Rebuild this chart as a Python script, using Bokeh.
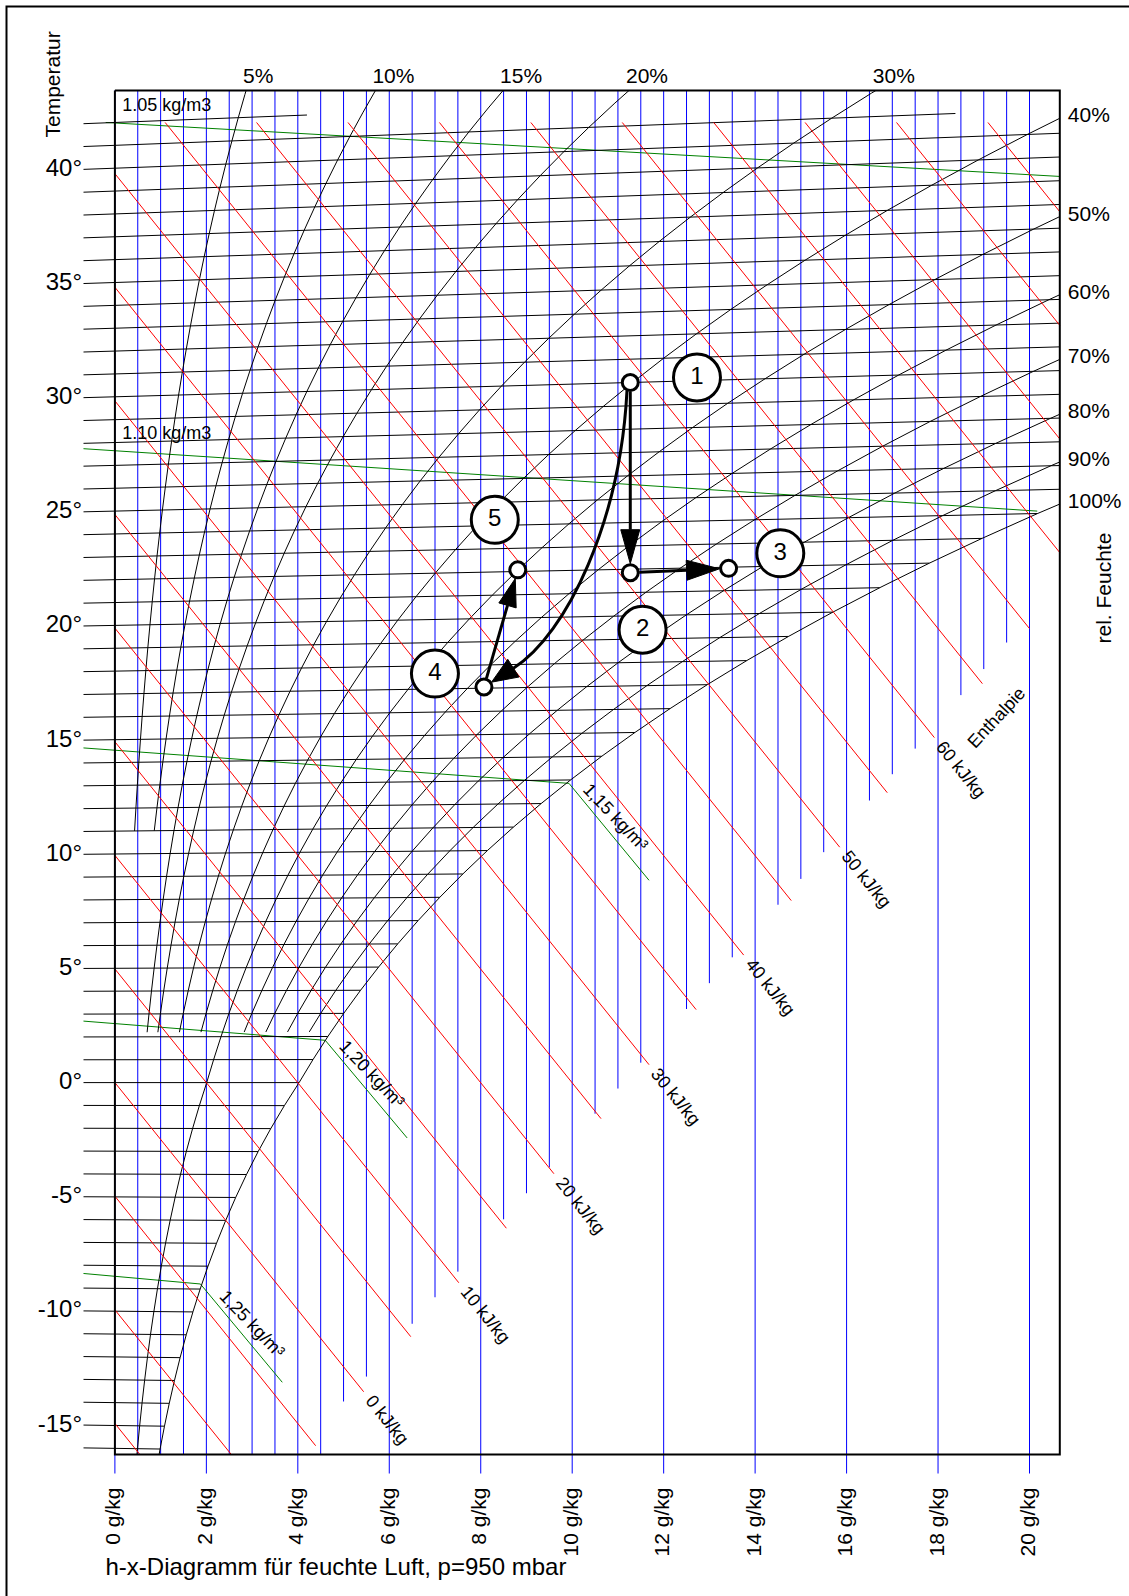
import math

from bokeh.core.properties import value
from bokeh.embed import file_html
from bokeh.models import Range1d
from bokeh.plotting import figure
from bokeh.resources import INLINE

# ---------------------------------------------------------------------------
# chart values
# ---------------------------------------------------------------------------
PRESSURE_HPA = 950.0
CP_AIR, CP_VAPOUR, R0 = 1.006, 1.86, 2501.0

# saturation vapour pressure (hPa) at whole degrees, over ice below 0 °C
SAT_T = list(range(-17, 46))
SAT_P = [
    1.372, 1.507, 1.653, 1.812, 1.985, 2.173, 2.377, 2.599, 2.839, 3.100,
    3.382, 3.687, 4.017, 4.375, 4.760, 5.177, 5.627,
    6.112, 6.571, 7.060, 7.581, 8.135, 8.725, 9.353, 10.020, 10.729, 11.481,
    12.280, 13.128, 14.026, 14.979, 15.987, 17.055, 18.185, 19.380, 20.643, 21.978,
    23.388, 24.877, 26.447, 28.104, 29.850, 31.690, 33.629, 35.670, 37.818, 40.078,
    42.455, 44.953, 47.578, 50.335, 53.229, 56.267, 59.454, 62.795, 66.298, 69.969,
    73.814, 77.840, 82.054, 86.464, 91.076, 95.898,
]

# relative humidity curves and the temperature each one starts at
RH_LEVELS = [5, 10, 15, 20, 30, 40, 50, 60, 70, 80, 90, 100]
RH_FROM_T = [11, 11, 2.2, 2.2, 2.2, 2.2, -17, 2.2, 2.2, 2.2, 2.2, -17]

# isotherms (°C); the two warmest stop early (moisture in g/kg)
ISOTHERMS = list(range(-16, 43))
ISOTHERM_STOP = {41: 18.38, 42: 4.20}
TEMP_LABELS = list(range(-15, 41, 5))

# enthalpy lines (kJ/kg) and the moisture where each one stops (None: runs to the frame)
ENTHALPY = list(range(-15, 95, 5))
ENTHALPY_END_X = [None, None, 4.39, 5.44, 6.47, 7.52, 8.56, 9.60, 10.63, 11.68, 12.71,
                  13.75, 14.79, 15.85, 16.89, 17.92, 18.97, 20.00, None, None, None, None]
ENTHALPY_LABELED = [0, 10, 20, 30, 40, 50, 60]

# moisture lines (g/kg) and the ordinate (°C) where each one stops (None: labelled)
MOISTURE = [i / 2 for i in range(41)]
MOISTURE_LABELED = list(range(0, 21, 2))
MOISTURE_FLOOR = [None, -16.3, -16.3, -16.3, None, -16.3, -16.3, -16.3, None, -16.3,
                  -13.95, -12.86, None, -10.55, -9.39, -8.27, None, -5.98, -4.84, -3.71,
                  None, -1.36, -0.26, 0.87, None, 3.22, 4.35, 5.48, None, 7.78,
                  8.91, 10.08, None, 12.34, 13.49, 14.61, None, 16.95, 18.09, 19.25, None]

# density lines: ordinate at the left end, point on the saturation curve, end in the fog zone
DENSITY_LABEL = ["1.05 kg/m3", "1.10 kg/m3", "1,15 kg/m³", "1,20 kg/m³", "1,25 kg/m³"]
DENSITY_X_LEFT = [-0.2, -0.687, -0.687, -0.687, -0.687]
DENSITY_Y_LEFT = [42.0, 27.73, 14.64, 2.69, -8.35]
DENSITY_X_SAT = [20.66, 20.17, 9.93, 4.60, 1.87]
DENSITY_Y_SAT = [39.64, 25.00, 13.09, 1.85, -8.81]
DENSITY_X_FOG = [None, None, 11.68, 6.39, 3.66]
DENSITY_Y_FOG = [None, None, 8.85, -2.42, -13.11]

# air states of the process (moisture g/kg, temperature °C)
STATE_NAME = ["1", "2", "3", "4", "5"]
STATE_X = [11.27, 11.27, 13.42, 8.07, 8.81]
STATE_T = [30.0, 21.85, 21.95, 17.05, 22.07]

# ---------------------------------------------------------------------------
# geometry of the diagram
# ---------------------------------------------------------------------------
W, H = 1129, 1596
X0, XS = 114.4, 45.73     # pixel of 0 g/kg, pixels per g/kg
Y0, YS = 1082.1, 22.86    # pixel of ordinate 0, pixels per degree
MID = 2.0                 # lift for vertically centred texts


def to_px(x, y):
    return X0 + x * XS, Y0 - y * YS


def to_data(sx, sy):
    return (sx - X0) / XS, (Y0 - sy) / YS


def shifted(x, y, dx, dy):
    sx, sy = to_px(x, y)
    return to_data(sx + dx, sy + dy)


X_MIN = 0.0
X_MAX = to_data(1059.3, 0)[0]
Y_TOP = to_data(0, 90)[1]
Y_BOT = to_data(0, 1454)[1]
ISO_X0 = to_data(83, 0)[0]
TICK_Y = to_data(0, 1473)[1]
CAP_Y = 42.0              # enthalpy lines start below this ordinate


def mixing_ratio(phi, ps):
    pv = phi / 100.0 * ps
    return 622.0 * pv / (PRESSURE_HPA - pv)


def ordinate(t, x):
    return t + CP_VAPOUR * t * x / 1000.0 / CP_AIR


def enthalpy_ordinate(h, x):
    return (h - R0 * x / 1000.0) / CP_AIR


def clip_segment(x0, y0, x1, y1):
    dx, dy = x1 - x0, y1 - y0
    a, b = 0.0, 1.0
    for pp, q in ((-dx, x0 - X_MIN), (dx, X_MAX - x0), (-dy, y0 - Y_BOT), (dy, Y_TOP - y0)):
        if pp == 0:
            if q < 0:
                return None
            continue
        r = q / pp
        if pp < 0:
            if r > b:
                return None
            a = max(a, r)
        else:
            if r < a:
                return None
            b = min(b, r)
    return x0 + a * dx, y0 + a * dy, x0 + b * dx, y0 + b * dy


def clip_polyline(xs, ys):
    cx, cy = [], []
    for i in range(len(xs) - 1):
        seg = clip_segment(xs[i], ys[i], xs[i + 1], ys[i + 1])
        if seg is None:
            continue
        ax, ay, bx, by = seg
        if not cx or abs(cx[-1] - ax) > 1e-9 or abs(cy[-1] - ay) > 1e-9:
            cx.append(ax)
            cy.append(ay)
        cx.append(bx)
        cy.append(by)
    return cx, cy


FONT = value("Liberation Sans")

p = figure(width=W, height=H, x_range=Range1d(-X0 / XS, (W - X0) / XS),
           y_range=Range1d((Y0 - H) / YS, Y0 / YS), output_backend="svg",
           toolbar_location=None, x_axis_type=None, y_axis_type=None,
           min_border=0, title=None)
p.outline_line_color = None
p.background_fill_color = "white"
p.border_fill_color = "white"


def label(pts, texts, size, angle=0.0, align="left", baseline="middle"):
    p.text(x=[q[0] for q in pts], y=[q[1] for q in pts], text=texts, angle=angle,
           text_font=FONT, text_font_size=size, text_align=align,
           text_baseline=baseline, text_color="black")


# --- moisture lines (blue) --------------------------------------------------
mx0, my0, mx1, my1 = [], [], [], []
for xv, floor in zip(MOISTURE, MOISTURE_FLOOR):
    bottom = TICK_Y if floor is None else max(floor, Y_BOT)
    mx0.append(xv); my0.append(Y_TOP); mx1.append(xv); my1.append(bottom)
p.segment(x0=mx0, y0=my0, x1=mx1, y1=my1, line_color="#0000ff", line_width=1)

# --- density lines (green) ---------------------------------------------------
dxs, dys = [], []
for i in range(len(DENSITY_LABEL)):
    xs = [DENSITY_X_LEFT[i], DENSITY_X_SAT[i]]
    ys = [DENSITY_Y_LEFT[i], DENSITY_Y_SAT[i]]
    if DENSITY_X_FOG[i] is not None:
        xs.append(DENSITY_X_FOG[i])
        ys.append(DENSITY_Y_FOG[i])
    dxs.append(xs)
    dys.append(ys)
p.multi_line(xs=dxs, ys=dys, line_color="#008000", line_width=1)

# --- isotherms (black) ------------------------------------------------------
sat_x = {t: mixing_ratio(100, ps) for t, ps in zip(SAT_T, SAT_P)}
ix0, iy0, ix1, iy1 = [], [], [], []
for t in ISOTHERMS:
    xe = ISOTHERM_STOP.get(t, min(sat_x[t], X_MAX))
    ix0.append(ISO_X0); iy0.append(ordinate(t, ISO_X0))
    ix1.append(xe); iy1.append(ordinate(t, xe))
p.segment(x0=ix0, y0=iy0, x1=ix1, y1=iy1, line_color="black", line_width=1)

# --- relative humidity curves ------------------------------------------------
rh_xs, rh_ys = [], []
top_pts, top_t, right_pts, right_t = [], [], [], []
for phi, t_from in zip(RH_LEVELS, RH_FROM_T):
    t_lo = math.floor(t_from)
    pts = [(mixing_ratio(phi, ps), t) for t, ps in zip(SAT_T, SAT_P) if t >= t_lo]
    xs = [x for x, _ in pts]
    ys = [ordinate(t, x) for x, t in pts]
    f = t_from - t_lo
    if f > 0:
        xs[0] += f * (xs[1] - xs[0])
        ys[0] += f * (ys[1] - ys[0])
    cx, cy = clip_polyline(xs, ys)
    rh_xs.append(cx)
    rh_ys.append(cy)
    if cy[-1] >= Y_TOP - 1e-6:
        top_pts.append(shifted(cx[-1], Y_TOP, -3, -13 - MID))
        top_t.append(f"{phi}%")
    else:
        right_pts.append(shifted(X_MAX, cy[-1], 8, -1.5 - MID))
        right_t.append(f"{phi}%")
p.multi_line(xs=rh_xs, ys=rh_ys, line_color="black", line_width=1)

# --- enthalpy lines (red) ----------------------------------------------------
h_dx, h_dy = XS, R0 / 1000.0 / CP_AIR * YS          # screen direction of the lines
h_len = math.hypot(h_dx, h_dy)
h_ux, h_uy = h_dx / h_len, h_dy / h_len
h_angle = -math.atan2(h_dy, h_dx)

hx0, hy0, hx1, hy1 = [], [], [], []
h_lab_pts, h_lab_t = [], []
for h, xe in zip(ENTHALPY, ENTHALPY_END_X):
    if enthalpy_ordinate(h, 0.0) <= CAP_Y:
        xs0, ys0 = 0.0, enthalpy_ordinate(h, 0.0)
    else:
        xs0, ys0 = (h - CP_AIR * CAP_Y) * 1000.0 / R0, CAP_Y
    if xe is None:
        xe = min(X_MAX, (h - CP_AIR * Y_BOT) * 1000.0 / R0)
    ye = enthalpy_ordinate(h, xe)
    hx0.append(xs0); hy0.append(ys0); hx1.append(xe); hy1.append(ye)
    if h in ENTHALPY_LABELED:
        h_lab_pts.append(shifted(xe, ye, 9 * h_ux - MID * h_uy * 0.0, 9 * h_uy - MID * 0.6))
        h_lab_t.append(f"{h} kJ/kg")
p.segment(x0=hx0, y0=hy0, x1=hx1, y1=hy1, line_color="#ff0000", line_width=1)
label(h_lab_pts, h_lab_t, "18px", angle=h_angle, align="left", baseline="middle")

# --- density labels ------------------------------------------------------------
flat_pts, flat_t, fog_pts, fog_t = [], [], [], []
fog_along = [14, 14, 22]
k = 0
for i, txt in enumerate(DENSITY_LABEL):
    if DENSITY_X_FOG[i] is None:
        slope = (DENSITY_Y_SAT[i] - DENSITY_Y_LEFT[i]) / (DENSITY_X_SAT[i] - DENSITY_X_LEFT[i])
        y_at_edge = DENSITY_Y_LEFT[i] + slope * (X_MIN - DENSITY_X_LEFT[i])
        flat_pts.append(shifted(X_MIN, y_at_edge, 7.3, -16.0 - MID))
        flat_t.append(txt)
    else:
        sx0, sy0 = to_px(DENSITY_X_SAT[i], DENSITY_Y_SAT[i])
        sx1, sy1 = to_px(DENSITY_X_FOG[i], DENSITY_Y_FOG[i])
        n = math.hypot(sx1 - sx0, sy1 - sy0)
        ux, uy = (sx1 - sx0) / n, (sy1 - sy0) / n
        along = fog_along[k]
        k += 1
        fog_pts.append(to_data(sx0 + along * ux + 1.5 * uy, sy0 + along * uy - 1.5 * ux))
        fog_t.append(txt)
label(flat_pts, flat_t, "18px", align="left", baseline="middle")
label(fog_pts, fog_t, "18px", angle=math.radians(-46.5), align="left", baseline="bottom")

# --- frame of the diagram and page border ------------------------------------
p.multi_line(xs=[[X_MIN, X_MAX, X_MAX, X_MIN, X_MIN]], ys=[[Y_TOP, Y_TOP, Y_BOT, Y_BOT, Y_TOP]],
             line_color="black", line_width=2, line_join="miter")
bx0, by0 = to_data(6, H + 10)
bx1, by1 = to_data(W + 10, 6)
p.line(x=[bx0, bx0, bx1], y=[by0, by1, by1], line_color="black", line_width=2,
       line_join="miter")

# --- scale texts ---------------------------------------------------------------
label([shifted(ISO_X0, ordinate(t, ISO_X0), -1.5, -MID) for t in TEMP_LABELS],
      [f"{t}°" for t in TEMP_LABELS], "24px", align="right")
label([shifted(n, TICK_Y, -MID, 14) for n in MOISTURE_LABELED],
      [f"{n} g/kg" for n in MOISTURE_LABELED], "21px", angle=math.pi / 2, align="right")
label(top_pts, top_t, "21px", align="left")
label(right_pts, right_t, "21px", align="left")

label([to_data(53.5 - MID, 137)], ["Temperatur"], "21px", angle=math.pi / 2)
label([to_data(1105 - MID, 643)], ["rel. Feuchte"], "21px", angle=math.pi / 2)
label([to_data(105, 1567.5 - MID)], ["h-x-Diagramm für feuchte Luft, p=950 mbar"], "24px")

# "Enthalpie" beside the 60 kJ/kg line end
e_i = ENTHALPY.index(60)
label([shifted(hx1[e_i], hy1[e_i], 62, -18 - MID)], ["Enthalpie"], "18px",
      angle=math.radians(47), align="center")

# --- process of the air -----------------------------------------------------
state_px = [to_px(x, ordinate(t, x)) for x, t in zip(STATE_X, STATE_T)]
R_SMALL = 9.0


def unit(dx, dy):
    n = math.hypot(dx, dy)
    return dx / n, dy / n


def head(tip, d, length, half):
    bx, by = tip[0] - d[0] * length, tip[1] - d[1] * length
    nx, ny = -d[1], d[0]
    return [tip, (bx + nx * half, by + ny * half), (bx - nx * half, by - ny * half)], (bx, by)


shaft_a, shaft_b, head_pts = [], [], []
for a, b, length, half in [(0, 1, 34, 9.5), (1, 2, 33, 10), (3, 4, 28, 9)]:
    pa, pb = state_px[a], state_px[b]
    d = unit(pb[0] - pa[0], pb[1] - pa[1])
    start = (pa[0] + d[0] * R_SMALL, pa[1] + d[1] * R_SMALL)
    tip = (pb[0] - d[0] * R_SMALL, pb[1] - d[1] * R_SMALL)
    tri, base = head(tip, d, length, half)
    shaft_a.append(start)
    shaft_b.append(base)
    head_pts.append(tri)

# curved change of state 1 -> 4
p_start = (state_px[0][0] - 3.3, state_px[0][1] + 8.3)
d_end = unit(-0.842, 0.539)
tip4 = (state_px[3][0] - d_end[0] * R_SMALL, state_px[3][1] - d_end[1] * R_SMALL)
tri4, base4 = head(tip4, d_end, 26, 10.5)
head_pts.append(tri4)
c0 = (p_start[0] - 6.7, p_start[1] + 130)
c1 = (base4[0] - d_end[0] * 64, base4[1] - d_end[1] * 64)

sa = [to_data(*q) for q in shaft_a]
sb = [to_data(*q) for q in shaft_b]
p.segment(x0=[q[0] for q in sa], y0=[q[1] for q in sa], x1=[q[0] for q in sb],
          y1=[q[1] for q in sb], line_color="black", line_width=3)
b0, b1, k0, k1 = to_data(*p_start), to_data(*base4), to_data(*c0), to_data(*c1)
p.bezier(x0=[b0[0]], y0=[b0[1]], x1=[b1[0]], y1=[b1[1]], cx0=[k0[0]], cy0=[k0[1]],
         cx1=[k1[0]], cy1=[k1[1]], line_color="black", line_width=3)
p.patches(xs=[[to_data(*q)[0] for q in tri] for tri in head_pts],
          ys=[[to_data(*q)[1] for q in tri] for tri in head_pts],
          fill_color="black", line_color="black", line_width=1)

state_y = [ordinate(t, x) for x, t in zip(STATE_X, STATE_T)]
p.scatter(x=STATE_X, y=state_y, marker="circle", size=16, fill_color="white",
          line_color="black", line_width=3)

# numbered markers next to the states
tag_offsets = [(66.7, -5.0), (12.3, 57.0), (51.7, -15.0), (-49.0, -13.4), (-23.0, -50.0)]
tag_pos = [to_data(sp[0] + o[0], sp[1] + o[1]) for sp, o in zip(state_px, tag_offsets)]
p.scatter(x=[q[0] for q in tag_pos], y=[q[1] for q in tag_pos], marker="circle", size=47,
          fill_color="white", line_color="black", line_width=3)
label([to_data(sp[0] + o[0], sp[1] + o[1] - MID) for sp, o in zip(state_px, tag_offsets)],
      STATE_NAME, "24px", align="center")

open("out.html", "w").write(file_html(p, INLINE))
